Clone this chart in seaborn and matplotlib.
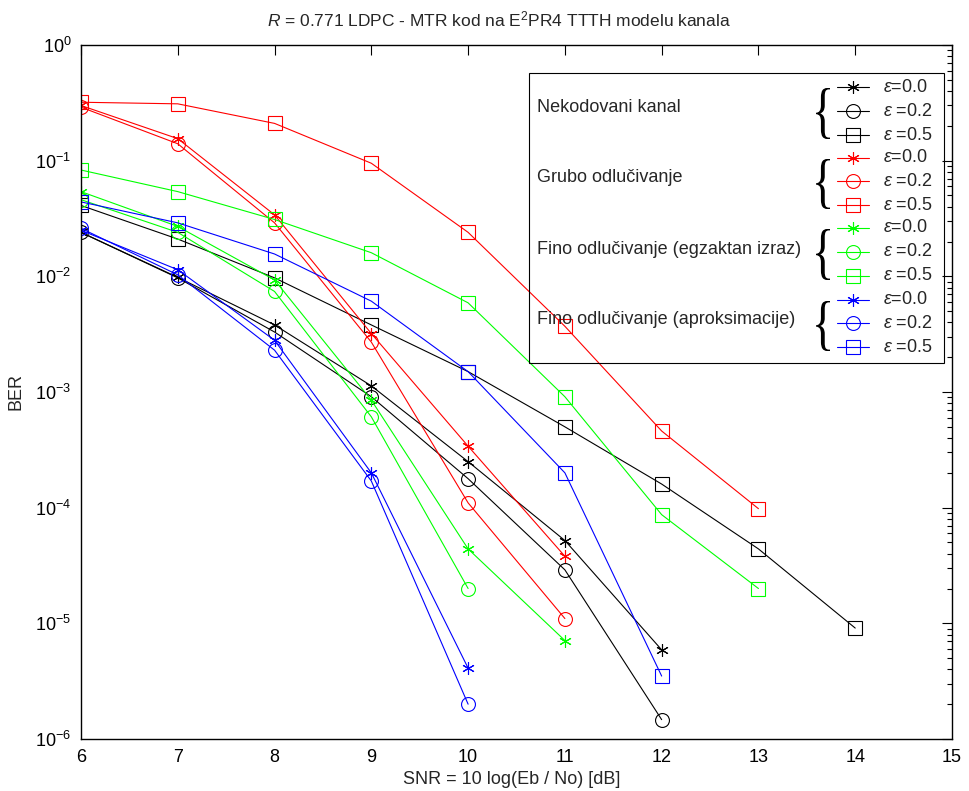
import matplotlib
matplotlib.use("Agg")
import matplotlib.pyplot as plt
import seaborn as sns
import pandas as pd
from matplotlib.lines import Line2D
from matplotlib.patches import Rectangle, PathPatch
from matplotlib.textpath import TextPath
from matplotlib.font_manager import FontProperties
from matplotlib.transforms import Affine2D
from matplotlib.ticker import NullFormatter, FixedLocator, LogFormatterSciNotation

# SNR axis values [dB]
snr = [6, 7, 8, 9, 10, 11, 12, 13, 14]

# Uncoded channel (Nekodovani kanal)
uncoded_e00 = [0.024, 0.0098, 0.0038, 0.00113, 2.5e-4, 5.2e-5, 5.9e-6]
uncoded_e02 = [0.024, 0.0097, 0.0033, 9.1e-4, 1.78e-4, 2.9e-5, 1.47e-6]
uncoded_e05 = [0.041, 0.021, 0.0097, 0.0038, 1.5e-3, 5.0e-4, 1.6e-4, 4.4e-5, 9.1e-6]

# Hard decision (Grubo odlucivanje)
hard_e00 = [0.30, 0.155, 0.034, 3.2e-3, 3.4e-4, 3.8e-5]
hard_e02 = [0.29, 0.14, 0.029, 2.7e-3, 1.1e-4, 1.1e-5]
hard_e05 = [0.32, 0.31, 0.21, 0.095, 0.024, 3.7e-3, 4.6e-4, 9.8e-5]

# Soft decision, exact expression
exact_e00 = [0.054, 0.027, 0.0093, 8.5e-4, 4.4e-5, 7.1e-6]
exact_e02 = [0.046, 0.024, 0.0074, 6.1e-4, 2.0e-5]
exact_e05 = [0.083, 0.054, 0.031, 0.016, 5.9e-3, 9.1e-4, 8.7e-5, 2.0e-5]

# Soft decision, approximations
approx_e00 = [0.025, 0.0114, 0.0028, 2.0e-4, 4.1e-6]
approx_e02 = [0.026, 0.0103, 0.0023, 1.7e-4, 2.0e-6]
approx_e05 = [0.044, 0.029, 0.0156, 6.1e-3, 1.5e-3, 2.0e-4, 3.5e-6]

group_names = ["Nekodovani kanal", "Grubo odlučivanje",
               "Fino odlučivanje (egzaktan izraz)", "Fino odlučivanje (aproksimacije)"]
eps_labels = [r"$\varepsilon$=0.0", r"$\varepsilon$ =0.2", r"$\varepsilon$ =0.5"]

STAR = (6, 2, 0)
colors = ["black", "#ff0000", "#00ff00", "#0000ff"]
markers = [STAR, "o", "s"]
msizes = [9, 10, 9.5]

groups = [
    [uncoded_e00, uncoded_e02, uncoded_e05],
    [hard_e00, hard_e02, hard_e05],
    [exact_e00, exact_e02, exact_e05],
    [approx_e00, approx_e02, approx_e05],
]

sns.set_theme(style="white")
plt.rcParams["font.family"] = ["Liberation Sans", "DejaVu Sans"]
plt.rcParams["mathtext.fontset"] = "custom"
plt.rcParams["mathtext.rm"] = "Liberation Sans"
plt.rcParams["mathtext.it"] = "Liberation Sans:italic"
plt.rcParams["mathtext.bf"] = "Liberation Sans:bold"

W, H = 969, 791
fig = plt.figure(figsize=(W / 100, H / 100), dpi=100)
fig.patch.set_facecolor("white")


def fx(x):
    return x / W


def fy(y):
    return 1 - y / H


ax = fig.add_axes([fx(81), fy(739), (952 - 81) / W, (739 - 45) / H])
ax.set_facecolor("white")
ax.set_yscale("log")

for color, series in zip(colors, groups):
    for ys, mk, ms in zip(series, markers, msizes):
        df = pd.DataFrame({"snr": snr[:len(ys)], "ber": ys})
        sns.lineplot(data=df, x="snr", y="ber", ax=ax, color=color, lw=0.8,
                     marker=mk, markersize=ms, mfc="none", mec=color, mew=0.8,
                     estimator=None, legend=False)

ax.set_xlim(6, 15)
ax.set_ylim(1e-6, 1)
ax.xaxis.set_major_locator(FixedLocator(snr + [15]))
ax.yaxis.set_major_locator(FixedLocator([10.0 ** e for e in range(-6, 1)]))
ax.yaxis.set_major_formatter(LogFormatterSciNotation())
minor_ticks = [k * 10.0 ** e for e in range(-6, 0) for k in range(2, 10)]
ax.yaxis.set_minor_locator(FixedLocator(minor_ticks))
ax.yaxis.set_minor_formatter(NullFormatter())
ax.tick_params(which="both", direction="in", top=True, right=True,
               labelsize=13, colors="black", width=0.8)
ax.tick_params(which="major", length=7, pad=7)
ax.tick_params(which="minor", length=3.5)
ax.set_xlabel(None)
ax.set_ylabel(None)
ax.xaxis.label.set_visible(False)
ax.yaxis.label.set_visible(False)
for sp in ax.spines.values():
    sp.set_color("black")
    sp.set_linewidth(1.0)
ax.grid(False)

fig.text(fx(499), fy(19), r"$R$ = 0.771 LDPC - MTR kod na E$^2$PR4 TTTH modelu kanala",
         ha="center", va="center", fontsize=12.5)
fig.text(fx(512), fy(779), "SNR = 10 log(Eb / No) [dB]", ha="center", va="center", fontsize=13)
fig.text(fx(16), fy(392), "BER", ha="center", va="center", rotation=90, fontsize=13)

# legend frame (transparent)
fig.add_artist(Rectangle((fx(529), fy(363)), (944 - 529) / W, (363 - 73) / H,
                         transform=fig.transFigure, fill=False, ec="black", lw=0.8))

brace_path = TextPath((0, 0), "{", size=1, prop=FontProperties(family="Liberation Serif"))
bb = brace_path.get_extents()

row_y = [87, 111, 135, 158, 181, 205, 228, 252, 276, 300, 323, 347]
for g, (name, color) in enumerate(zip(group_names, colors)):
    rows = row_y[3 * g:3 * g + 3]
    fig.text(fx(537), fy(rows[1] - 3), name, ha="left", va="center", fontsize=13)
    # curly brace scaled into its box (display pixels)
    top, bot = rows[0] + 1, rows[2] + 4
    x0, x1 = 816, 830
    tr = (Affine2D().translate(-bb.x0, -bb.y0)
          .scale((x1 - x0) / bb.width, (bot - top) / bb.height)
          .translate(x0, H - bot))
    fig.add_artist(PathPatch(tr.transform_path(brace_path), transform=None,
                             fc="black", ec="none"))
    for r, mk, ms, lab in zip(rows, markers, msizes, eps_labels):
        fig.add_artist(Line2D([fx(837), fx(869)], [fy(r), fy(r)], transform=fig.transFigure,
                              color=color, lw=0.8))
        fig.add_artist(Line2D([fx(853)], [fy(r)], transform=fig.transFigure, color=color,
                              marker=mk, markersize=ms, mfc="none", mec=color, mew=0.8, lw=0))
        fig.text(fx(883), fy(r), lab, ha="left", va="center", fontsize=13)

fig.savefig("out.png", dpi=100, facecolor="white")
